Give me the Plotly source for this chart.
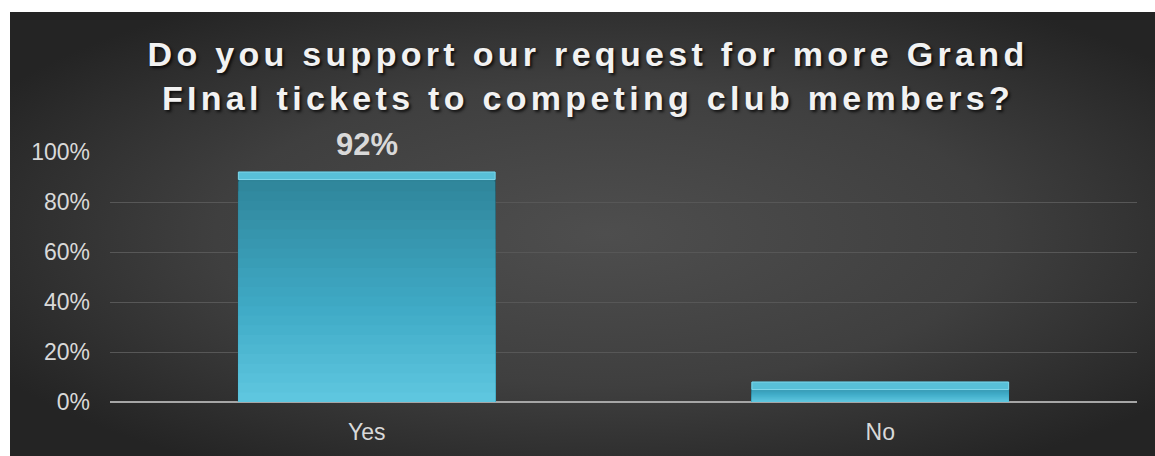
import base64
import plotly.graph_objects as go

# Survey result
categories = ["Yes", "No"]
shares = [0.92, 0.08]
label_text = ["92%", ""]
tick_values = [0, 0.2, 0.4, 0.6, 0.8, 1.0]
tick_labels = ["0%", "20%", "40%", "60%", "80%", "100%"]

TITLE = "Do you support our request for more Grand<br>FInal tickets to competing club members?"

W, H = 1155, 456
FONT = "Liberation Sans, Arial, sans-serif"
TEXT_GREY = "#d9d9d9"


def mix(c1, c2, t):
    a = [int(c1[i:i + 2], 16) for i in (1, 3, 5)]
    b = [int(c2[i:i + 2], 16) for i in (1, 3, 5)]
    return "#" + "".join(f"{round(a[i] + (b[i] - a[i]) * t):02x}" for i in range(3))


# radial dark-grey backdrop for the chart area
bg_svg = (
    '<svg xmlns="http://www.w3.org/2000/svg" width="1145" height="444" '
    'viewBox="0 0 1145 444" preserveAspectRatio="none">'
    '<defs><radialGradient id="g" cx="52%" cy="50%" r="62%">'
    '<stop offset="0" stop-color="#4e4e4e"/>'
    '<stop offset="0.55" stop-color="#3f3f3f"/>'
    '<stop offset="1" stop-color="#242424"/>'
    '</radialGradient></defs>'
    '<rect width="1145" height="444" fill="url(#g)"/></svg>'
)
bg_uri = "data:image/svg+xml;base64," + base64.b64encode(bg_svg.encode()).decode()

fig = go.Figure()

# bar body: stacked overlay layers give a vertical teal gradient
top_col, mid_col, low_col = "#2f8499", "#3faac6", "#5ec6df"
n_layers = 24
for i in range(n_layers):
    f = 1 - i / n_layers
    t = i / (n_layers - 1)
    col = mix(top_col, mid_col, t / 0.6) if t < 0.6 else mix(mid_col, low_col, (t - 0.6) / 0.4)
    fig.add_trace(go.Bar(
        x=categories, y=[v * f for v in shares],
        marker=dict(color=col,
                    line=dict(color="#1d5d6d", width=1) if i == 0 else dict(width=0)),
        hoverinfo="skip" if i else "x+y",
        showlegend=False,
    ))

# bevelled top edge
bevel = 0.03
fig.add_trace(go.Bar(
    x=categories, y=[bevel] * len(shares), base=[v - bevel for v in shares],
    marker=dict(color="#58c0d8", line=dict(color="#7fd6ea", width=1)),
    hoverinfo="skip", showlegend=False,
))

# value label above the bar
for c, v, txt in zip(categories, shares, label_text):
    if txt:
        fig.add_annotation(
            x=c, y=v, text=f"<b>{txt}</b>", showarrow=False,
            yanchor="bottom", yshift=8,
            font=dict(family=FONT, size=31, color=TEXT_GREY),
        )

fig.update_layout(
    template="none",
    width=W, height=H,
    margin=dict(l=0, r=0, t=0, b=0, pad=0, autoexpand=False),
    paper_bgcolor="white",
    plot_bgcolor="rgba(0,0,0,0)",
    barmode="overlay",
    bargap=0.5,
    images=[dict(source=bg_uri, xref="paper", yref="paper",
                 x=10 / W, y=1 - 12 / H, sizex=1 - 10 / W, sizey=1 - 12 / H,
                 xanchor="left", yanchor="top", sizing="stretch", layer="below")],
    title=dict(
        text=f"<b>{TITLE}</b>",
        x=588 / W, xanchor="center",
        y=1 - 66 / H, yanchor="top",
        font=dict(family=FONT, size=34, color="#f2f2f2",
                  shadow="2px 2px 3px rgba(0,0,0,0.75)"),
    ),
    xaxis=dict(
        domain=[110 / W, 1137 / W],
        automargin=False,
        tickfont=dict(family=FONT, size=23, color=TEXT_GREY),
        ticks="", ticklabelstandoff=14,
        showgrid=False, showline=False, zeroline=False,
        fixedrange=True,
    ),
    yaxis=dict(
        domain=[(H - 402) / H, (H - 152) / H],
        automargin=False,
        range=[0, 1.0],
        tickvals=tick_values, ticktext=tick_labels,
        tickfont=dict(family=FONT, size=23, color=TEXT_GREY),
        ticks="", ticklabelstandoff=19,
        showgrid=True, gridcolor="#575757", gridwidth=1,
        zeroline=True, zerolinecolor="#a6a6a6", zerolinewidth=2,
        showline=False, fixedrange=True,
    ),
)

letter_spacing_js = """
var gd = document.getElementById('{plot_id}');
function spaceTitle() {
  gd.querySelectorAll('.gtitle').forEach(function (el) {
    el.style.letterSpacing = '4.3px';
  });
}
spaceTitle();
gd.on('plotly_afterplot', spaceTitle);
"""

fig.write_html("out.html", post_script=letter_spacing_js, config={"displayModeBar": False})
